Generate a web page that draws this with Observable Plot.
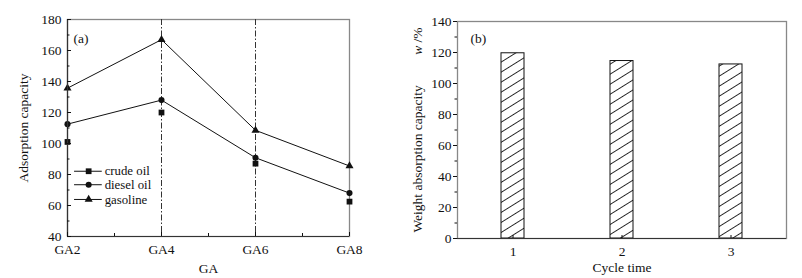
<!DOCTYPE html>
<html>
<head>
<meta charset="utf-8">
<script src="https://cdn.jsdelivr.net/npm/d3@7"></script>
<script src="https://cdn.jsdelivr.net/npm/@observablehq/plot@0.6"></script>
<style>
  body { margin: 0; background: #fff; }
  #wrap { position: relative; width: 802px; height: 278px; overflow: hidden; background: #fff; }
  #a { position: absolute; left: 0; top: 0; }
  #b { position: absolute; left: 400px; top: 0; }
</style>
</head>
<body>
<div id="wrap"><div id="a"></div><div id="b"></div></div>
<script>
// ---- Panel (a) data ----
const grades = [2, 4, 6, 8];
const gradeTicks = [2, 4, 6, 8];
const gradeMinorTicks = [3, 5, 7];
const markedGrades = [4, 6];
const crudeOil = [101, 120, 87, 62.5];
const dieselOil = [112.5, 128, 90.8, 68];
const gasoline = [135.7, 167, 108.5, 85.5];
const capTicks = [40, 60, 80, 100, 120, 140, 160, 180];
const capMinorTicks = [50, 70, 90, 110, 130, 150, 170];
const legendNames = ["crude oil", "diesel oil", "gasoline"];
const legendSymbols = ["square", "circle", "triangle"];
const legendR = [3.2, 2.8, 2.7];

// ---- Panel (b) data ----
const cycles = [1, 2, 3];
const weightAbsorption = [119.5, 114.5, 112.3];
const wTicks = [0, 20, 40, 60, 80, 100, 120, 140];
const wMinorTicks = [10, 30, 50, 70, 90, 110, 130];

const font = {fontFamily: "'Liberation Serif', 'Times New Roman', serif", fontSize: "13.5px", color: "#111", background: "#fff"};

const series = [
  {name: "crude oil", values: crudeOil, symbol: "square", r: 3.2, line: false},
  {name: "diesel oil", values: dieselOil, symbol: "circle", r: 2.8, line: true},
  {name: "gasoline", values: gasoline, symbol: "triangle", r: 2.7, line: true}
];
const rows = series.flatMap(s => grades.map((g, i) => ({series: s.name, g, v: s.values[i], symbol: s.symbol, r: s.r})));

// legend rows placed in data space of panel (a)
const legendY = [82.1, 73.4, 63.9];
const legendRows = legendNames.map((n, i) => ({name: n, symbol: legendSymbols[i], r: legendR[i], y: legendY[i]}));

const chartA = Plot.plot({
  width: 400, height: 278,
  marginLeft: 67, marginRight: 51, marginTop: 19, marginBottom: 42,
  style: font,
  x: {domain: [2, 8]},
  y: {domain: [40, 180]},
  marks: [
    Plot.frame({stroke: "#888", strokeWidth: 1.3}),
    Plot.ruleX(markedGrades, {stroke: "#333", strokeWidth: 1, strokeDasharray: "6,2,1.5,2"}),
    ...series.filter(s => s.line).map(s =>
      Plot.line(rows.filter(d => d.series === s.name), {x: "g", y: "v", stroke: "#111", strokeWidth: 1})),
    Plot.dot(rows, {x: "g", y: "v", symbol: "symbol", r: "r", fill: "#111", stroke: "none"}),
    // legend
    Plot.ruleY(legendRows, {y: "y", x1: 2.15, x2: 2.74, stroke: "#111", strokeWidth: 1}),
    Plot.dot(legendRows, {x: 2.45, y: "y", symbol: "symbol", r: "r", fill: "#111", stroke: "none"}),
    Plot.text(legendRows, {x: 2.79, y: "y", text: "name", textAnchor: "start", fontSize: 12.8, fill: "#111"}),
    Plot.text(["(a)"], {frameAnchor: "top-left", dx: 6, dy: 14, fontSize: 13.5, fill: "#111", textAnchor: "start"}),
    // axes
    Plot.ruleX([2], {stroke: "#333", strokeWidth: 1.2}),
    Plot.ruleY([40], {stroke: "#333", strokeWidth: 1.2}),
    Plot.axisY(capTicks, {anchor: "left", tickSize: -4, tickPadding: 10, label: "Adsorption capacity", labelAnchor: "center", labelOffset: 49, labelArrow: false, fontSize: 13.5}),
    Plot.axisY(capMinorTicks, {anchor: "left", tickSize: -2.5, tickFormat: () => "", label: null}),
    Plot.axisX(gradeTicks, {anchor: "bottom", tickSize: -4, tickPadding: 12, tickFormat: d => "GA" + d, label: "GA", labelAnchor: "center", labelOffset: 36, labelArrow: false, fontSize: 13.5}),
    Plot.axisX(gradeMinorTicks, {anchor: "bottom", tickSize: -3, tickFormat: () => "", label: null})
  ]
});
document.getElementById("a").appendChild(chartA);

const bars = cycles.map((c, i) => ({cycle: c, w: weightAbsorption[i]}));

const chartB = Plot.plot({
  width: 402, height: 278,
  marginLeft: 57, marginRight: 16, marginTop: 21, marginBottom: 40,
  style: font,
  x: {type: "band", domain: cycles, paddingInner: 0.79, paddingOuter: 0.395},
  y: {domain: [0, 140]},
  marks: [
    Plot.frame({stroke: "#888", strokeWidth: 1.3}),
    Plot.barY(bars, {x: "cycle", y: "w", fill: "url(#hatch)", stroke: "#111", strokeWidth: 1}),
    Plot.text(["(b)"], {frameAnchor: "top-left", dx: 13, dy: 12, fontSize: 13.5, fill: "#111", textAnchor: "start"}),
    Plot.ruleY([0], {stroke: "#333", strokeWidth: 1.2}),
    Plot.axisY(wTicks, {anchor: "left", tickSize: 4, tickPadding: 2, label: "Weight absorption capacity", labelAnchor: "center", labelOffset: 45, labelArrow: false, fontSize: 13.5}),
    Plot.axisY(wMinorTicks, {anchor: "left", tickSize: 2.5, tickFormat: () => "", label: null}),
    Plot.axisX(cycles, {anchor: "bottom", tickSize: -3, tickPadding: 11, label: "Cycle time", labelAnchor: "center", labelOffset: 33, labelArrow: false, fontSize: 13.5})
  ]
});
document.getElementById("b").appendChild(chartB);

// hatch pattern
const svgB = d3.select(chartB);
const defs = svgB.insert("defs", ":first-child");
const pat = defs.append("pattern")
  .attr("id", "hatch")
  .attr("patternUnits", "userSpaceOnUse")
  .attr("width", 8).attr("height", 8.5)
  .attr("patternTransform", "rotate(-32)");
pat.append("rect").attr("width", 8).attr("height", 8.5).attr("fill", "#fff");
pat.append("line").attr("x1", -1).attr("x2", 9).attr("y1", 4.25).attr("y2", 4.25)
  .attr("stroke", "#111").attr("stroke-width", 0.9);

// y label of panel (b): add the italic unit "w /%"
svgB.selectAll("text").filter(function() { return this.textContent === "Weight absorption capacity"; })
  .each(function() {
    const t = d3.select(this);
    const txt = t.select("tspan").empty() ? t : t.select("tspan");
    txt.text("Weight absorption capacity\u2003\u2003 ");
    txt.append("tspan").attr("font-style", "italic").text("w");
    txt.append("tspan").text(" /%");
  });
</script>
</body>
</html>
